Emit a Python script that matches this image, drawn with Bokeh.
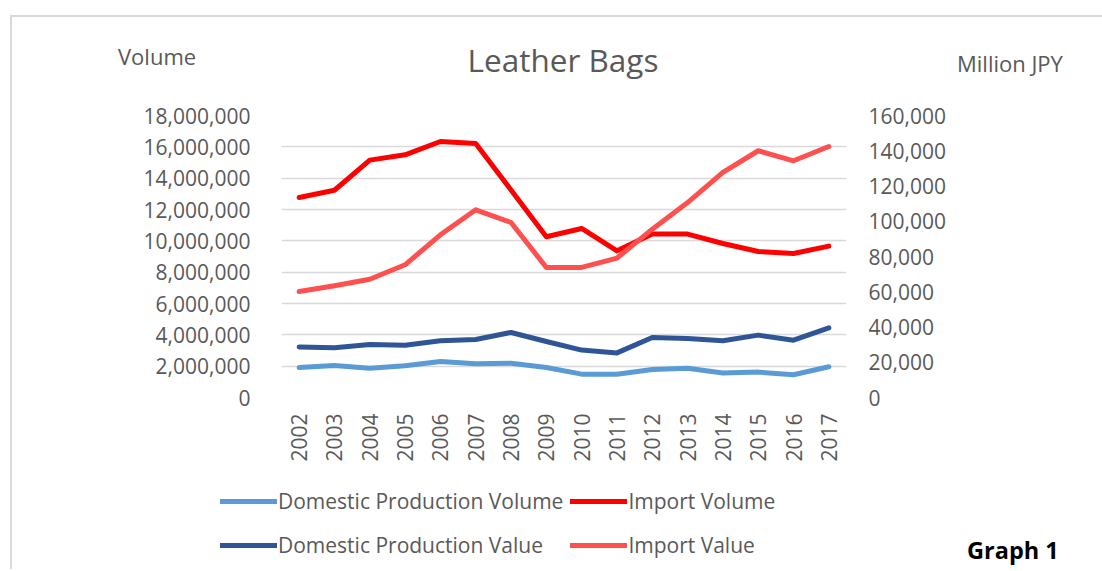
import math
from bokeh.plotting import figure
from bokeh.models import (Range1d, LinearAxis, FixedTicker, NumeralTickFormatter,
                          Legend, LegendItem, Div, Spacer)
from bokeh.layouts import column, row
from bokeh.embed import file_html
from bokeh.resources import INLINE

years = ["2002", "2003", "2004", "2005", "2006", "2007", "2008", "2009",
         "2010", "2011", "2012", "2013", "2014", "2015", "2016", "2017"]
domestic_volume = [1910000, 2040000, 1870000, 2020000, 2300000, 2150000, 2190000, 1910000,
                   1490000, 1490000, 1790000, 1870000, 1570000, 1620000, 1450000, 1960000]
import_volume = [12770000, 13230000, 15150000, 15490000, 16340000, 16210000, 13250000, 10260000,
                 10790000, 9360000, 10430000, 10430000, 9830000, 9320000, 9190000, 9660000]
domestic_value = [28700, 28200, 30100, 29700, 32200, 32900, 36900, 31800,
                  26900, 25300, 34000, 33500, 32200, 35400, 32500, 39500]
import_value = [60100, 63400, 67100, 75300, 92300, 106500, 99300, 73800,
                73800, 79100, 95500, 110600, 127700, 140000, 134300, 142400]

series_names = ["Domestic Production Volume", "Import Volume",
                "Domestic Production Value", "Import Value"]
title_text = "Leather Bags"
left_title = "Volume"
right_title = "Million JPY"
caption = "Graph 1"

FONT = "Open Sans"
GREY = "#595959"
COLORS = ["#5B9BD5", "#FF0000", "#2F5597", "#FF5050"]

OX, OY = 12, 17          # inner origin of the bordered box (page px)
HEAD_H = 78              # header height
P_TOP = OY + HEAD_H      # page y of main figure top
FL, FR, FT, FB = 281, 846, 115, 397   # plot frame in page px
P_RIGHT = 955
WP = P_RIGHT - OX
P_BOTTOM = 470
HP = P_BOTTOM - P_TOP
LEG_LEFT, LEG_TOP = 220, 482
LH = 569 - LEG_TOP       # legend figure height
LW = P_RIGHT - LEG_LEFT  # legend figure width

p = figure(width=WP, height=HP, output_backend="svg", toolbar_location=None,
           x_range=Range1d(-0.5, len(years) - 0.5), y_range=Range1d(0, 18000000),
           min_border_left=FL - OX, min_border_right=P_RIGHT - FR,
           min_border_top=FT - P_TOP, min_border_bottom=P_BOTTOM - FB,
           outline_line_color=None, background_fill_color="white",
           border_fill_color="white")
p.extra_y_ranges = {"value": Range1d(0, 160000)}

xs = list(range(len(years)))

p.xaxis.ticker = FixedTicker(ticks=xs)
p.xaxis.major_label_overrides = {i: y for i, y in enumerate(years)}
p.xaxis.major_label_orientation = math.pi / 2
p.xaxis.major_label_standoff = 16
p.yaxis.ticker = FixedTicker(ticks=list(range(0, 18000001, 2000000)))
p.yaxis.formatter = NumeralTickFormatter(format="0,0")
p.yaxis.major_label_standoff = 31

right = LinearAxis(y_range_name="value",
                   ticker=FixedTicker(ticks=list(range(0, 160001, 20000))),
                   formatter=NumeralTickFormatter(format="0,0"))
right.major_label_standoff = 22
p.add_layout(right, "right")

for ax in p.axis:
    ax.axis_line_color = None
    ax.major_tick_line_color = None
    ax.minor_tick_line_color = None
    ax.major_tick_out = 0
    ax.major_tick_in = 0
    ax.major_label_text_font = FONT
    ax.major_label_text_font_size = "21px"
    ax.major_label_text_color = GREY

p.xgrid.grid_line_color = None
p.ygrid.grid_line_color = "#d9d9d9"
p.ygrid.grid_line_width = 1.5

kw = dict(line_width=5, line_cap="round", line_join="round")
p.line(xs, domestic_volume, line_color=COLORS[0], **kw)
p.line(xs, import_volume, line_color=COLORS[1], **kw)
p.line(xs, domestic_value, y_range_name="value", line_color=COLORS[2], **kw)
p.line(xs, import_value, y_range_name="value", line_color=COLORS[3], **kw)

# legend figure: same series, ranges chosen so only the legend shows
lf = figure(width=LW, height=LH, output_backend="svg", toolbar_location=None,
            x_range=Range1d(1000, 1001), y_range=Range1d(0, 1),
            x_axis_type=None, y_axis_type=None,
            min_border=0, outline_line_color=None,
            background_fill_color="white", border_fill_color="white")
lf.grid.visible = False
lr = [lf.line(xs, s, line_color=c, **kw)
      for s, c in zip([domestic_volume, import_volume, domestic_value, import_value], COLORS)]
legend = Legend(items=[LegendItem(label=n, renderers=[r]) for n, r in zip(series_names, lr)],
                orientation="horizontal", ncols=2, location="top_left",
                label_text_font=FONT, label_text_font_size="21px", label_text_color=GREY,
                glyph_width=57, glyph_height=20, label_height=37, label_standoff=1,
                spacing=7, padding=0, margin=0, border_line_color=None,
                background_fill_alpha=0)
lf.add_layout(legend, "center")


def span(text, left, cy, size, color=GREY, weight="normal", center=False):
    tx = "translateX(-50%)" if center else "none"
    return (f'<span style="position:absolute;left:{left}px;top:{cy - 0.55 * size:.1f}px;'
            f'font-family:\'{FONT}\';font-size:{size}px;line-height:1;color:{color};'
            f'font-weight:{weight};white-space:nowrap;transform:{tx};">{text}</span>')


header_html = (f'<div style="position:relative;width:{1102 - OX}px;height:{HEAD_H}px;">'
               + span(left_title, 118 - OX, 57 - OY, 22)
               + span(title_text, 563 - OX, 61 - OY, 31.5, center=True)
               + span(right_title, 957 - OX, 64 - OY, 22)
               + '</div>')
header = Div(text=header_html, width=1102 - OX, height=HEAD_H,
             styles={"margin": "0", "padding": "0"})

GH = 569 - P_TOP
GW = 1102 - P_RIGHT
graph_html = (f'<div style="position:relative;width:{GW}px;height:{GH}px;">'
              + span(caption, 967 - P_RIGHT, 552 - P_TOP, 23.5, color="black", weight="bold")
              + '</div>')
gdiv = Div(text=graph_html, width=GW, height=GH, styles={"margin": "0", "padding": "0"})

legend_block = column(Spacer(height=LEG_TOP - P_BOTTOM),
                      row(Spacer(width=LEG_LEFT - OX), lf, spacing=0), spacing=0)

layout = column(header, row(column(p, legend_block, spacing=0), gdiv, spacing=0), spacing=0,
                styles={"border-left": "2px solid #d9d9d9", "border-top": "2px solid #d9d9d9",
                        "margin-left": "10px", "margin-top": "15px"})

open("out.html", "w").write(file_html(layout, INLINE))
